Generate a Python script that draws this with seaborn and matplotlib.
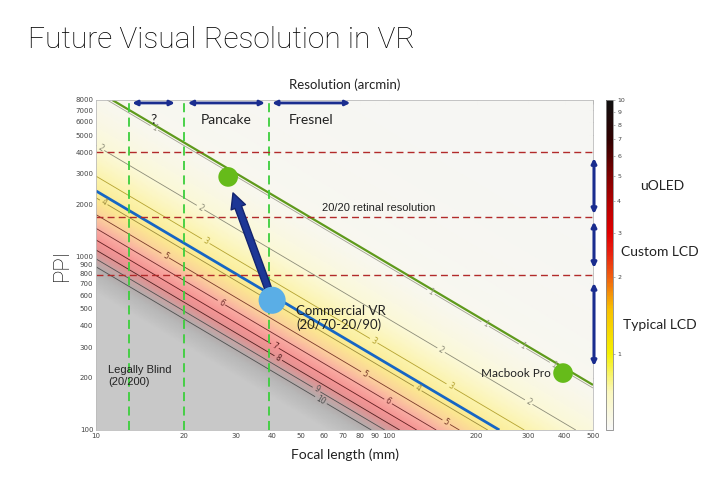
import numpy as np
import matplotlib
matplotlib.use("Agg")
import matplotlib.pyplot as plt
import seaborn as sns
from matplotlib.colors import LinearSegmentedColormap, Normalize, LogNorm
from matplotlib.cm import ScalarMappable
from matplotlib.ticker import NullLocator

# angular size of one pixel: arcmin = ARCMIN_K / (ppi * focal_mm)
ARCMIN_K = 25.4 * 180 / np.pi * 60

focal_range = (10, 500)
ppi_range = (100, 8000)
x_ticks = [10, 20, 30, 40, 50, 60, 70, 80, 90, 100, 200, 300, 400, 500]
y_ticks = [100, 200, 300, 400, 500, 600, 700, 800, 900, 1000,
           2000, 3000, 4000, 5000, 6000, 7000, 8000]

contour_levels = [1, 2, 3, 4, 5, 6, 7, 8, 9, 10]
retina_arcmin = 0.96       # green 20/20 line
commercial_arcmin = 3.65   # blue commercial VR line

lens_focal = [13, 20, 39]
display_ppi = [4000, 1700, 780]

optics_names = ["?", "Pancake", "Fresnel"]
optics_start = [13.3, 20.6, 40]
optics_end = [18.6, 37.8, 74]

panel_names = ["uOLED", "Custom LCD", "Typical LCD"]
panel_top = [3700, 1590, 705]
panel_bottom = [1760, 860, 234]

device_names = ["Future VR", "Macbook Pro", "Commercial VR"]
device_focal = [28.3, 395, 40]
device_ppi = [2880, 213, 560]

colorbar_ticks = [1, 2, 3, 4, 5, 6, 7, 8, 9, 10]

# colour styles
shade_values = [0, 1, 2, 3, 4, 5, 6, 7, 8, 9, 10, 11, 14]
shade_colors = ["#f6f6f3", "#f8f7ef", "#fbf8d6", "#fbf3ac", "#fbea90", "#fbd09c",
                "#f9aca2", "#f59494", "#e39292", "#caa3a3", "#b3adad", "#b8b8b8", "#c8c8c8"]
bar_values = [0.5, 0.7, 1, 1.5, 2, 2.5, 3, 4, 5, 7, 10]
bar_colors = ["#f8f8f8", "#fbf8c0", "#f5f000", "#f8c000", "#f06010", "#e82010",
              "#e00000", "#b00000", "#800000", "#300000", "#101010"]
contour_colors = ["#a0a090", "#8c8c78", "#b4a230", "#9c8a3c", "#7a3a2a",
                  "#6e2a2a", "#602020", "#502020", "#505050", "#505050"]

sns.set_theme(style="white")
plt.rcParams["font.family"] = ["DejaVu Sans"]
SANS = ["Lato", "Open Sans", "DejaVu Sans"]
LIGHT = ["Roboto", "DejaVu Sans"]

fig = plt.figure(figsize=(7.2, 4.79), dpi=100)
ax = fig.add_axes([96 / 720, 49 / 479, 497 / 720, 330 / 479])

f = np.logspace(np.log10(focal_range[0]), np.log10(focal_range[1]), 400)
p = np.logspace(np.log10(ppi_range[0]), np.log10(ppi_range[1]), 400)
F, P = np.meshgrid(f, p)
A = ARCMIN_K / (F * P)

vmax = shade_values[-1]
shade_cmap = LinearSegmentedColormap.from_list(
    "shade", [(v / vmax, c) for v, c in zip(shade_values, shade_colors)])
ax.pcolormesh(F, P, A, cmap=shade_cmap, norm=Normalize(0, vmax),
              shading="gouraud", rasterized=True)

ax.set_xscale("log")
ax.set_yscale("log")
ax.set_xlim(*focal_range)
ax.set_ylim(*ppi_range)

cs = ax.contour(F, P, A, levels=contour_levels, colors=contour_colors, linewidths=0.6)

ax.contour(F, P, A, levels=[commercial_arcmin], colors="#1666c4", linewidths=2.0)
ax.contour(F, P, A, levels=[retina_arcmin], colors="#5f9a1c", linewidths=1.6)

for fl in lens_focal:
    ax.axvline(fl, color="#3ccf3c", lw=1.3, ls=(0, (5, 3)))
for pp in display_ppi:
    ax.axhline(pp, color="#b22a2a", lw=1.0, ls=(0, (5, 3)))

ax.set_xticks(x_ticks, labels=[str(t) for t in x_ticks])
ax.set_yticks(y_ticks, labels=[str(t) for t in y_ticks])
ax.xaxis.set_minor_locator(NullLocator())
ax.yaxis.set_minor_locator(NullLocator())
ax.tick_params(which="both", direction="in", top=True, right=True, length=3,
               width=0.5, color="#777777", labelsize=5, labelcolor="#444444", pad=2)
for s in ax.spines.values():
    s.set_color("#bbbbbb")
    s.set_linewidth(0.6)

# contour labels, roughly where they sit in the original
label_spots = [(15.5, 5200), (139, 617), (214, 409), (286, 301), (366, 237),
               (10.3, 4150), (22.7, 1900), (150, 282), (300, 143),
               (23.6, 1210), (88.5, 322), (162, 177),
               (10.6, 2040), (125, 170),
               (17.2, 1005), (83, 210), (157, 110),
               (26.8, 540), (99.4, 145),
               (40.9, 305), (42.2, 264), (56.6, 170), (58.8, 149)]
ax.clabel(cs, fontsize=5.5, inline=True, inline_spacing=2, fmt="%d", manual=label_spots)

# device blobs
blob_colors = ["#66bb1a", "#66bb1a", "#5aaee6"]
blob_sizes = [200, 200, 380]
for name, fx, py, col, sz in zip(device_names, device_focal, device_ppi, blob_colors, blob_sizes):
    sns.scatterplot(x=[fx], y=[py], ax=ax, color=col, s=sz, edgecolor="none", zorder=6)

# upgrade arrow from commercial VR to future VR
ax.annotate("", xy=(29.4, 2330), xytext=(38.7, 660),
            arrowprops=dict(facecolor="#1d3796", edgecolor="#13246e", width=5,
                            headwidth=11, headlength=11, shrink=0), zorder=5)

navy = "#1a2d8f"
for name, a, b in zip(optics_names, optics_start, optics_end):
    ax.annotate("", xy=(a, 7690), xytext=(b, 7690),
                arrowprops=dict(arrowstyle="<|-|>", color=navy, lw=2.0,
                                mutation_scale=7, shrinkA=0, shrinkB=0))
    ax.text(np.sqrt(a * b), 6100, name, ha="center", va="center",
            fontsize=10, family=SANS, color="#222222")

for name, top, bot in zip(panel_names, panel_top, panel_bottom):
    ax.annotate("", xy=(1.002, top), xytext=(1.002, bot),
                xycoords=ax.get_yaxis_transform(),
                arrowprops=dict(arrowstyle="<|-|>", color=navy, lw=2.2,
                                mutation_scale=7, shrinkA=0, shrinkB=0))
centers = [(662, 186), (660, 252), (660, 325)]
for name, (cx, cy) in zip(panel_names, centers):
    fig.text(cx / 720, 1 - cy / 479, name, ha="center", va="center",
             fontsize=10, family=SANS, color="#222222")

ax.text(48.3, 443, "Commercial VR\n(20/70-20/90)", ha="left", va="center",
        fontsize=9.5, family=SANS, color="#222222", linespacing=1.1)
ax.text(11.0, 205, "Legally Blind\n(20/200)", ha="left", va="center",
        fontsize=8, family=["Liberation Sans", "DejaVu Sans"], color="#222222",
        linespacing=1.15)
ax.text(207, 213, "Macbook Pro", ha="left", va="center",
        fontsize=8.5, family=SANS, color="#222222")
ax.text(59.4, 1905, "20/20 retinal resolution", ha="left", va="center",
        fontsize=8, family=["Liberation Sans Narrow", "Liberation Sans", "DejaVu Sans"],
        color="#222222")

# colorbar
cax = fig.add_axes([606 / 720, 49 / 479, 7 / 720, 330 / 479])
bar_norm = LogNorm(bar_values[0], bar_values[-1])
span = np.log(bar_values[-1] / bar_values[0])
bar_cmap = LinearSegmentedColormap.from_list(
    "bar", [(np.log(v / bar_values[0]) / span, c) for v, c in zip(bar_values, bar_colors)])
cb = fig.colorbar(ScalarMappable(norm=bar_norm, cmap=bar_cmap), cax=cax, ticks=colorbar_ticks)
cb.ax.yaxis.set_minor_locator(NullLocator())
cb.ax.set_yticklabels([str(t) for t in colorbar_ticks])
cb.ax.tick_params(labelsize=4.5, length=1.5, width=0.4, color="#777777",
                  labelcolor="#444444", pad=1.5)
cb.outline.set_linewidth(0.6)
cb.outline.set_edgecolor("#888888")

fig.text(28 / 720, 1 - 40 / 479, "Future Visual Resolution in VR", ha="left", va="center",
         fontsize=21.5, family=LIGHT, fontweight="light", color="#000000")
fig.text(345 / 720, 1 - 85 / 479, "Resolution (arcmin)", ha="center", va="center",
         fontsize=9.5, family=SANS, color="#222222")
fig.text(345 / 720, 1 - 455 / 479, "Focal length (mm)", ha="center", va="center",
         fontsize=10, family=SANS, color="#222222")
fig.text(62 / 720, 1 - 265 / 479, "PPI", ha="center", va="center", rotation=90,
         fontsize=16, family=LIGHT, fontweight="light", color="#000000")

fig.savefig("out.png", dpi=100)
